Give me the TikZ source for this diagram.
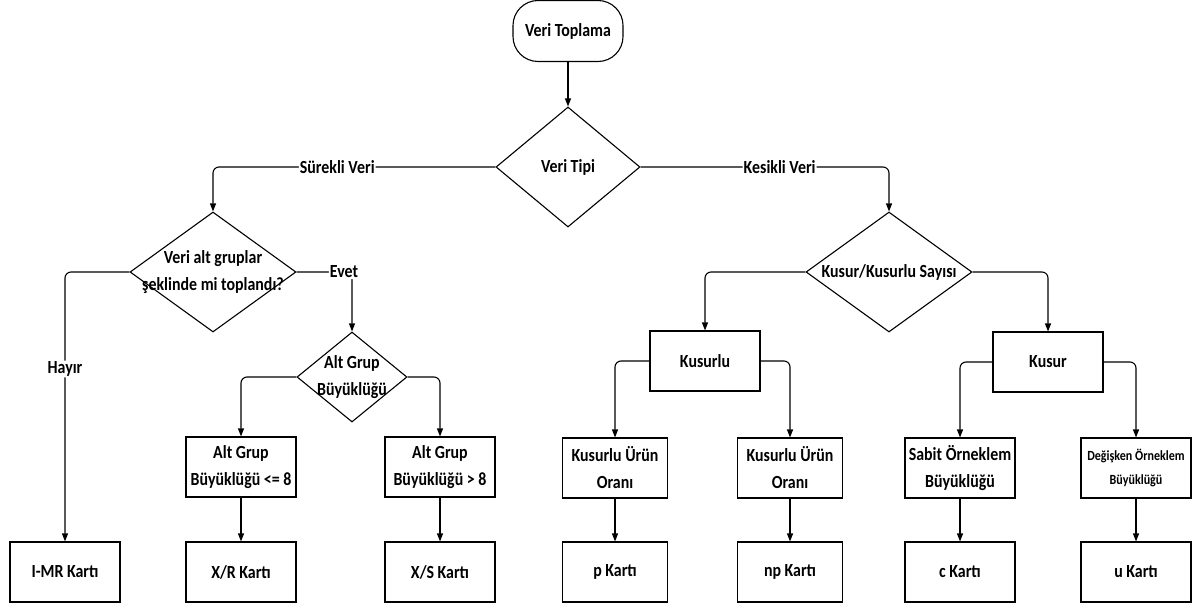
\documentclass[tikz,border=0pt]{standalone}
\usepackage{fontspec}
\setmainfont{Carlito}[FakeStretch=0.86]
\usetikzlibrary{shapes.geometric,arrows.meta}
\begin{document}
\begin{tikzpicture}[x=1pt,y=-1pt,
  font=\fontsize{18.5}{27}\selectfont\bfseries,
  every node/.style={align=center},
  box/.style={draw,line width=1.1pt,minimum width=110pt,minimum height=60pt,inner sep=2pt},
  dia/.style={draw,diamond,line width=1.1pt,inner sep=0pt},
  term/.style={draw,rounded corners=25pt,line width=1.1pt,minimum width=110pt,minimum height=61pt},
  arr/.style={line width=1.1pt,rounded corners=6pt,-{Triangle[length=8pt,width=6pt]}},
  lbl/.style={fill=white,inner sep=1pt}]
\useasboundingbox (0,0) rectangle (1197,610);
% top
\node[term] (t) at (568,31) {Veri Toplama};
\node[dia,minimum width=144pt,minimum height=120pt,label={center:Veri Tipi}] (d1) at (568,167) {};
% left
\node[dia,minimum width=166pt,minimum height=120pt,label={[align=center]center:Veri alt gruplar\\şeklinde mi toplandı?}] (d2) at (213,272) {};
\node[dia,minimum width=110pt,minimum height=90pt,label={[align=center]center:Alt Grup\\Büyüklüğü}] (d3) at (352,377) {};
\node[box] (b1) at (241,467) {Alt Grup\\Büyüklüğü <= 8};
\node[box] (b2) at (440,467) {Alt Grup\\Büyüklüğü > 8};
\node[box] (imr) at (65,572) {I-MR Kartı};
\node[box] (xr) at (241,572) {X/R Kartı};
\node[box] (xs) at (440,572) {X/S Kartı};
% right
\node[dia,minimum width=166pt,minimum height=120pt,label={center:Kusur/Kusurlu Sayısı}] (d4) at (889,272) {};
\node[box] (ku) at (705,361) {Kusurlu};
\node[box] (k) at (1048,362) {Kusur};
\node[box,minimum width=105pt] (o1) at (615,468) {Kusurlu Ürün\\Oranı};
\node[box,minimum width=105pt] (o2) at (790,468) {Kusurlu Ürün\\Oranı};
\node[box,minimum width=105pt] (p) at (615,572) {p Kartı};
\node[box,minimum width=105pt] (np) at (790,572) {np Kartı};
\node[box] (s1) at (960,468) {Sabit Örneklem\\Büyüklüğü};
\node[box,font=\fontsize{14}{24}\selectfont\bfseries] (s2) at (1136,468) {Değişken Örneklem\\Büyüklüğü};
\node[box] (c) at (960,572) {c Kartı};
\node[box] (u) at (1136,572) {u Kartı};
% connectors
\draw[arr] (t) -- (d1);
\draw[arr] (d1.west) -| node[lbl,pos=0.28]{Sürekli Veri} (d2.north);
\draw[arr] (d1.east) -| node[lbl,pos=0.28]{Kesikli Veri} (d4.north);
\draw[arr] (d2.west) -| node[lbl,pos=0.68]{Hayır} (imr.north);
\draw[arr] (d2.east) -| node[lbl,pos=0.5,xshift=-8pt]{Evet} (d3.north);
\draw[arr] (d3.west) -| (b1.north);
\draw[arr] (d3.east) -| (b2.north);
\draw[arr] (b1) -- (xr);
\draw[arr] (b2) -- (xs);
\draw[arr] (d4.west) -| (ku.north);
\draw[arr] (d4.east) -| (k.north);
\draw[arr] (ku.west) -| (o1.north);
\draw[arr] (ku.east) -| (o2.north);
\draw[arr] (k.west) -| (s1.north);
\draw[arr] (k.east) -| (s2.north);
\draw[arr] (o1) -- (p);
\draw[arr] (o2) -- (np);
\draw[arr] (s1) -- (c);
\draw[arr] (s2) -- (u);
\end{tikzpicture}
\end{document}
